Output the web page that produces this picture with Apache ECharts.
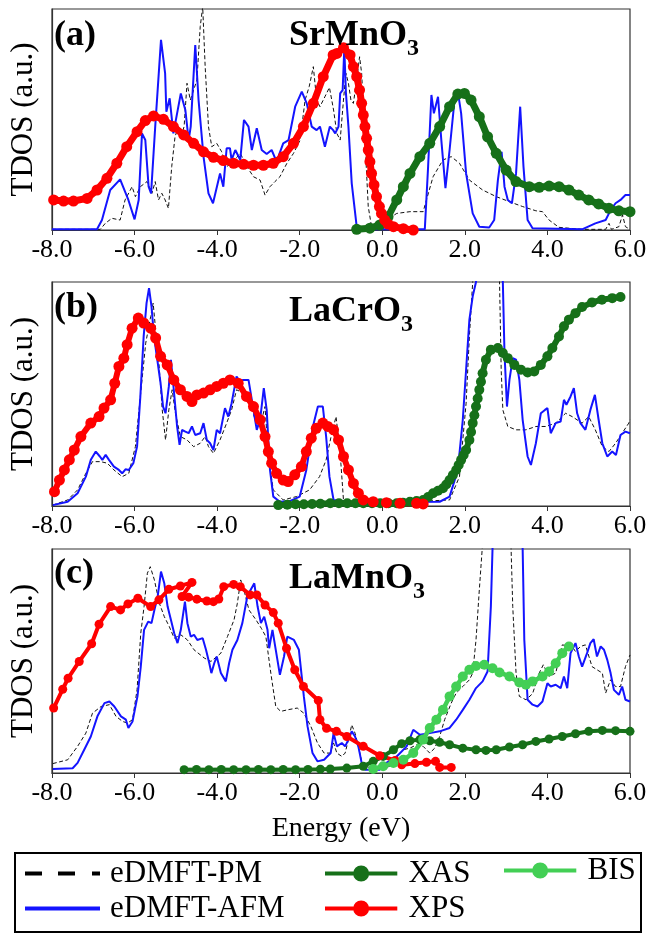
<!DOCTYPE html>
<html>
<head>
<meta charset="utf-8">
<script src="https://cdn.jsdelivr.net/npm/echarts@6/dist/echarts.min.js"></script>
<style>html,body{margin:0;padding:0;background:#fff}#chart{width:650px;height:933px}</style>
</head>
<body>
<div id="chart"></div>
<script>
// ---------- data (energy eV, TDOS a.u. in % of panel height) ----------
const xTicks = [-8, -6, -4, -2, 0, 2, 4, 6];
const panelLabels = ['(a)', '(b)', '(c)'];
const compounds = [['SrMnO', '3'], ['LaCrO', '3'], ['LaMnO', '3']];
const seriesNames = ['eDMFT-PM', 'eDMFT-AFM', 'XAS', 'XPS', 'BIS'];

// Panel (a) SrMnO3
const aPM = [[-8,0.3],[-6.83,0.3],[-6.71,3],[-6.55,5.3],[-6.35,4.5],[-6.23,13.6],[-6.06,19.6],[-5.98,15.1],[-5.86,19.6],[-5.7,21.9],[-5.58,16.6],[-5.5,21.9],[-5.42,13.6],[-5.34,16.6],[-5.26,13.6],[-5.18,9.8],[-5.1,28.7],[-5.02,42.2],[-4.94,46.8],[-4.85,43.7],[-4.8,46.8],[-4.73,66.4],[-4.65,58.8],[-4.57,63.3],[-4.49,67.9],[-4.41,92],[-4.35,101],[-4.29,73.9],[-4.21,46.8],[-4.13,37.7],[-4.01,39.2],[-3.89,35.4],[-3.77,28.7],[-3.65,30.2],[-3.44,34.7],[-3.28,28.7],[-3.12,24.1],[-2.96,22.6],[-2.84,15.8],[-2.72,19.6],[-2.6,21.9],[-2.48,24.1],[-2.31,30.2],[-2.15,34.7],[-1.99,40.7],[-1.87,58.8],[-1.77,64.9],[-1.67,73.9],[-1.59,58.8],[-1.51,55.8],[-1.39,60.3],[-1.28,64.5],[-1.18,54.3],[-1.1,43.7],[-1.02,40.7],[-0.94,58.8],[-0.88,70.9],[-0.82,66.4],[-0.76,58.8],[-0.7,57.3],[-0.62,67.9],[-0.55,78.4],[-0.5,70.9],[-0.42,40.7],[-0.34,10.6],[-0.26,1.5],[-0.1,0.8],[0.1,4.5],[0.35,7.5],[0.67,8.3],[0.99,8.3],[1.07,13.6],[1.23,24.1],[1.47,31.7],[1.67,33.2],[1.87,30.2],[2.11,22.6],[2.43,18.1],[2.76,15.1],[3.08,12.8],[3.4,10.6],[3.72,8.7],[3.88,8.3],[4.04,4.5],[4.28,1.2],[4.84,0.3],[5.41,0.3],[5.49,3],[5.55,0.3],[5.73,1.5],[5.82,6.8],[5.89,1.5],[6,0.3]];
const aAFM = [[-8,0.3],[-6.91,0.3],[-6.79,4.5],[-6.59,18.1],[-6.35,22.9],[-6.15,13.6],[-6.0,4.8],[-5.9,13.6],[-5.82,43.7],[-5.74,40.7],[-5.66,19.6],[-5.6,16.6],[-5.5,46.8],[-5.36,86],[-5.26,70.9],[-5.23,53.5],[-5.15,59.6],[-5.06,43.7],[-4.88,61.8],[-4.77,54.3],[-4.69,40.7],[-4.64,46.8],[-4.53,83.7],[-4.45,58.8],[-4.33,33.2],[-4.21,16.6],[-4.1,12.1],[-3.93,25.6],[-3.85,19.6],[-3.77,37],[-3.69,37],[-3.65,31.7],[-3.56,36.2],[-3.44,31.7],[-3.35,49.8],[-3.24,46.8],[-3.16,36.2],[-3.04,46],[-2.92,36.2],[-2.8,34.4],[-2.68,36.2],[-2.56,30.9],[-2.4,39.2],[-2.27,40.7],[-2.11,55.8],[-1.95,62.6],[-1.83,57.3],[-1.71,46.8],[-1.59,45.2],[-1.51,46.8],[-1.39,37.7],[-1.27,46.8],[-1.19,45.2],[-1.14,43.7],[-1.06,46.8],[-1.02,61.8],[-0.96,63.3],[-0.92,82.2],[-0.88,61.8],[-0.82,46.8],[-0.74,21.1],[-0.62,1.5],[-0.46,0.3],[1.03,0.3],[1.11,28.7],[1.19,61.1],[1.25,52.8],[1.35,60.3],[1.43,40.7],[1.53,18.9],[1.63,36.2],[1.75,58.8],[1.83,62.6],[1.91,52.8],[2.03,25.6],[2.19,7.5],[2.35,1.5],[2.59,1.1],[2.71,4.5],[2.8,22.6],[2.89,35.4],[2.96,19.6],[3.04,13.6],[3.14,12.1],[3.24,25.6],[3.34,55.8],[3.42,28.7],[3.52,4.5],[3.64,0.8],[4.84,0.3],[5.16,3],[5.41,4.5],[5.53,9],[5.65,12.1],[5.77,13.6],[5.89,15.8],[6,15.8]];
const aXPS = [[-7.96,13.6],[-7.72,13.1],[-7.48,13.1],[-7.15,14.3],[-6.91,18.1],[-6.67,23.4],[-6.43,30.2],[-6.19,37.7],[-5.94,44.5],[-5.74,49.5],[-5.54,51.6],[-5.3,50.1],[-5.06,46.8],[-4.81,43],[-4.57,39.2],[-4.33,35.4],[-4.09,32.9],[-3.85,31.4],[-3.6,30.2],[-3.36,29.7],[-3.12,29.3],[-2.88,29.3],[-2.64,30.2],[-2.4,33.2],[-2.15,39.2],[-1.91,46.8],[-1.67,57.3],[-1.43,69.4],[-1.19,79.2],[-1.1,79.9],[-0.94,82.5],[-0.78,79.2],[-0.7,73.9],[-0.62,69.4],[-0.55,63.3],[-0.5,57.3],[-0.46,52],[-0.42,46.8],[-0.38,41.5],[-0.34,36.2],[-0.3,30.9],[-0.26,25.6],[-0.2,20.4],[-0.14,15.1],[-0.07,10.6],[-0.02,7.5],[0.06,4.5],[0.14,2.7],[0.27,1.5],[0.51,0.6],[0.75,0]];
const aXAS = [[-0.62,0.3],[-0.3,0.8],[-0.06,2.3],[0.14,6],[0.35,13.6],[0.51,19.6],[0.67,25.6],[0.91,33.2],[1.15,39.2],[1.39,46.8],[1.63,55.8],[1.83,61.5],[1.99,61.8],[2.15,58.8],[2.35,51.3],[2.55,42.2],[2.76,34.7],[3.0,27.1],[3.24,21.9],[3.56,19.6],[3.8,19.3],[4.04,19.9],[4.28,19.6],[4.52,18.1],[4.76,15.8],[5.0,13.6],[5.24,11.8],[5.49,9.8],[5.73,8.7],[6.0,8.3]];

// Panel (b) LaCrO3
const bPM = [[-7.98,0.4],[-7.62,2.7],[-7.38,7.2],[-7.18,14.6],[-7.02,19.8],[-6.82,19.8],[-6.66,19.1],[-6.5,16.1],[-6.3,13.1],[-6.14,14.6],[-5.98,26.5],[-5.86,48.9],[-5.73,72.7],[-5.61,84.6],[-5.55,90.6],[-5.49,78.7],[-5.41,63.8],[-5.33,42.9],[-5.25,29.5],[-5.17,42.9],[-5.09,51.9],[-5.01,41.4],[-4.89,31],[-4.73,29.5],[-4.57,26.5],[-4.41,28],[-4.29,31],[-4.21,26.5],[-4.09,23.5],[-3.93,29.5],[-3.77,37],[-3.65,42.9],[-3.53,51.9],[-3.37,50.4],[-3.2,45.9],[-3.08,38.5],[-2.96,35.5],[-2.84,44.4],[-2.76,22.1],[-2.64,7.2],[-2.4,2.7],[-2.08,4.2],[-1.76,7.2],[-1.52,13.1],[-1.36,20.6],[-1.24,31],[-1.12,39.9],[-1.08,39.9],[-1.02,23.5],[-0.94,2.7],[-0.78,1.6],[0.35,1.6],[1.63,2.7],[1.87,13.1],[2.03,45.9],[2.11,75.7],[2.19,100],[2.27,120],[2.8,120],[2.84,100],[2.88,60.8],[2.92,42.9],[3.04,35.5],[3.24,34],[3.48,34],[3.72,35.5],[3.96,35.5],[4.2,37],[4.44,41.4],[4.6,39.9],[4.84,37],[5.0,39.9],[5.16,34],[5.33,26.5],[5.49,24.3],[5.65,28],[5.81,32.5],[5.97,37],[6.0,38.5]];
const bAFM = [[-7.98,0.4],[-7.62,1.9],[-7.38,5.7],[-7.18,13.1],[-7.06,20.6],[-6.94,24.3],[-6.84,22.1],[-6.78,20.6],[-6.7,22.8],[-6.62,20.6],[-6.5,17.6],[-6.38,16.1],[-6.3,14.6],[-6.22,16.4],[-6.14,16.1],[-6.03,19.1],[-5.94,26.5],[-5.86,48.9],[-5.78,75.7],[-5.71,90.6],[-5.65,97.3],[-5.59,89.1],[-5.53,75.7],[-5.45,65.3],[-5.37,54.8],[-5.31,44.4],[-5.25,41.4],[-5.17,53.4],[-5.12,65.3],[-5.05,51.9],[-4.97,35.5],[-4.91,27.3],[-4.85,34],[-4.77,33.2],[-4.69,32.5],[-4.61,35.5],[-4.53,31.7],[-4.41,32.5],[-4.33,37],[-4.25,29.5],[-4.17,28],[-4.09,25],[-4.01,34],[-3.93,32.5],[-3.81,43.7],[-3.73,39.9],[-3.65,45.9],[-3.53,57.8],[-3.45,55.6],[-3.37,56.3],[-3.24,56.3],[-3.12,42.9],[-3.04,34],[-2.96,38.5],[-2.87,52.6],[-2.8,42.9],[-2.72,16.1],[-2.64,4.2],[-2.48,1.9],[-2.24,2.2],[-2.0,4.2],[-1.84,16.1],[-1.68,35.5],[-1.56,44.4],[-1.44,44.4],[-1.36,31],[-1.28,13.1],[-1.18,2.7],[-0.78,1.9],[0.35,1.8],[1.39,1.9],[1.63,4.2],[1.83,16.1],[1.95,38.5],[2.03,60.8],[2.11,83.2],[2.19,93.6],[2.27,100],[2.35,120],[2.84,120],[2.92,100],[2.96,68.3],[3.02,44.4],[3.08,56.3],[3.16,66],[3.24,65.3],[3.32,56.3],[3.4,38.5],[3.52,22.1],[3.6,18.3],[3.72,28],[3.84,41.4],[3.94,42.9],[4.0,43.7],[4.08,32.5],[4.2,37],[4.32,37.7],[4.4,47.4],[4.46,45.2],[4.56,48.9],[4.64,52.6],[4.72,41.4],[4.8,37],[4.92,34],[5.04,42.9],[5.15,49.6],[5.24,38.5],[5.33,28],[5.45,22.1],[5.57,24.3],[5.66,22.8],[5.77,31.7],[5.89,33.2],[6.0,32.5]];
const bXPS = [[-7.94,6.4],[-7.82,11.6],[-7.7,16.1],[-7.58,20.6],[-7.46,25],[-7.3,31],[-7.06,37],[-6.86,39.9],[-6.74,43.7],[-6.58,47.4],[-6.48,54.8],[-6.38,62.3],[-6.26,66],[-6.18,72],[-6.06,79.4],[-5.91,83.9],[-5.78,81.7],[-5.61,79.4],[-5.49,75],[-5.37,66.8],[-5.21,63],[-5.05,56.3],[-4.89,51.9],[-4.73,48.9],[-4.61,46.6],[-4.49,49.6],[-4.33,50.4],[-4.17,51.9],[-4.01,53.4],[-3.85,54.8],[-3.69,56.3],[-3.49,54.8],[-3.29,48.9],[-3.12,44.4],[-2.96,38.5],[-2.84,31],[-2.76,24.3],[-2.68,19.1],[-2.56,14.6],[-2.4,11.6],[-2.28,10.9],[-2.12,13.9],[-1.96,17.6],[-1.84,24.3],[-1.72,30.3],[-1.6,34.7],[-1.44,37],[-1.32,35.5],[-1.18,34],[-1.06,29.5],[-0.94,22.1],[-0.82,16.1],[-0.7,10.1],[-0.58,5.7],[-0.46,2.7],[-0.22,1.9],[0.1,1.5],[0.43,1.2],[0.83,1.2],[0.99,0.9]];
const bXAS = [[-2.52,0.4],[-2.3,0.6],[-2.1,0.8],[-1.9,0.8],[-1.7,0.9],[-1.5,1],[-1.26,1.2],[-1.05,1.2],[-0.85,1.2],[-0.65,1.2],[-0.46,1.2],[-0.25,1.2],[-0.05,1.2],[0.15,1.2],[0.35,1.2],[0.5,1.5],[0.67,1.9],[0.83,2.2],[0.99,2.7],[1.11,4],[1.23,5.7],[1.35,6.8],[1.47,7.9],[1.55,9.6],[1.63,11.6],[1.71,13.8],[1.79,16.1],[1.85,18.3],[1.91,20.6],[1.97,22.8],[2.03,25],[2.11,29.5],[2.15,33],[2.19,37],[2.23,40.5],[2.27,44.4],[2.31,48],[2.35,51.9],[2.39,55.5],[2.43,59.3],[2.51,65.3],[2.63,69.7],[2.8,70.5],[2.92,68.3],[3.04,66],[3.2,63],[3.36,60.8],[3.52,59.6],[3.68,60.1],[3.84,63],[4.0,66.8],[4.12,70.5],[4.28,75.7],[4.4,80.2],[4.52,83.2],[4.68,86.1],[4.84,88.8],[5.08,90.9],[5.32,92.1],[5.57,92.8],[5.77,93.3]];

// Panel (c) LaMnO3
const cPM = [[-7.98,4.2],[-7.62,5.9],[-7.38,11.9],[-7.18,17.8],[-7.02,26.7],[-6.81,29.7],[-6.61,30.5],[-6.45,25.3],[-6.29,23],[-6.17,22.3],[-6.05,23.8],[-5.94,37.1],[-5.85,62.4],[-5.77,74.3],[-5.69,89.2],[-5.62,92.1],[-5.52,86.2],[-5.4,75.8],[-5.28,69.8],[-5.16,65.4],[-5.04,60.2],[-4.88,61.7],[-4.72,59.4],[-4.56,55],[-4.31,51.3],[-4.15,49.8],[-3.91,53.5],[-3.75,60.9],[-3.59,68.4],[-3.51,75.8],[-3.43,86.2],[-3.35,81.7],[-3.23,72.8],[-3.06,68.4],[-2.93,64.6],[-2.82,60.9],[-2.7,44.6],[-2.58,29.7],[-2.46,27.5],[-2.3,28.2],[-2.06,29],[-1.9,26.7],[-1.73,20.8],[-1.57,13.4],[-1.41,8.9],[-1.26,8.9],[-1.18,13.4],[-1.1,8.9],[-0.98,7.4],[-0.9,8.9],[-0.82,14.9],[-0.74,21.5],[-0.66,17.8],[-0.58,11.9],[-0.5,5.2],[-0.42,3],[-0.06,1.5],[0.18,3],[0.35,7.4],[0.51,10.4],[0.67,11.1],[0.83,12.6],[0.99,11.9],[1.15,8.9],[1.27,11.1],[1.39,16.3],[1.51,23.8],[1.67,31.2],[1.79,35.7],[1.95,38.6],[2.11,41.6],[2.19,44.6],[2.27,59.4],[2.35,81.7],[2.42,100],[2.46,130],[3.08,130],[3.12,100],[3.16,74.3],[3.24,44.6],[3.32,34.2],[3.48,32.7],[3.64,35.4],[3.8,44.6],[3.9,48.3],[4.04,43.1],[4.2,44.6],[4.28,50.5],[4.36,57.2],[4.48,56.8],[4.6,56.5],[4.68,54.2],[4.8,56.5],[4.92,57.2],[5.08,47.5],[5.2,46.1],[5.33,44.6],[5.41,35.7],[5.53,41.6],[5.65,38.6],[5.77,38.6],[5.89,47.5],[6.0,52.7]];
const cAFM = [[-7.98,1.8],[-7.5,2.1],[-7.38,4.5],[-7.22,10.4],[-7.06,16.3],[-6.9,25.3],[-6.73,31.2],[-6.61,31.9],[-6.49,29.7],[-6.33,25.3],[-6.21,23.8],[-6.15,20.1],[-6.05,23],[-5.93,34.2],[-5.85,47.5],[-5.77,63.9],[-5.67,67.6],[-5.59,66.9],[-5.52,72.8],[-5.44,78.8],[-5.36,89.9],[-5.28,84.7],[-5.2,74.3],[-5.12,68.4],[-5.04,62.4],[-4.96,58],[-4.88,63.9],[-4.78,76.5],[-4.72,66.9],[-4.64,60.9],[-4.56,61.7],[-4.48,59.4],[-4.35,60.2],[-4.27,55],[-4.19,49],[-4.14,44.6],[-4.07,49],[-4.01,52],[-3.91,44.6],[-3.79,40.9],[-3.71,49],[-3.63,55],[-3.51,59.4],[-3.39,66.9],[-3.27,78.8],[-3.19,81.7],[-3.1,84.7],[-3.02,74.3],[-2.94,66.9],[-2.86,69.8],[-2.78,63.9],[-2.74,55.7],[-2.66,63.9],[-2.58,55],[-2.48,43.8],[-2.38,52],[-2.3,60.9],[-2.14,59.4],[-2.02,55],[-1.9,34.2],[-1.81,20.8],[-1.69,8.9],[-1.57,5.2],[-1.41,5.9],[-1.25,8.9],[-1.18,17.8],[-1.1,11.9],[-0.98,13.4],[-0.9,11.9],[-0.82,14.9],[-0.74,18.6],[-0.66,16.3],[-0.58,11.9],[-0.5,4.5],[-0.42,1.5],[-0.06,1.5],[0.1,4.5],[0.35,7.4],[0.59,11.9],[0.75,19.3],[0.91,17.1],[1.15,17.8],[1.39,18.6],[1.63,20.1],[1.79,23.8],[1.95,28.2],[2.11,32.7],[2.27,37.9],[2.43,40.9],[2.55,45.3],[2.63,74.3],[2.67,100],[2.71,130],[3.36,130],[3.4,100],[3.44,59.4],[3.52,32.7],[3.64,30.5],[3.76,29.7],[3.88,31.9],[4.0,40.1],[4.08,38.6],[4.2,39.4],[4.32,37.9],[4.4,43.1],[4.48,37.9],[4.56,53.5],[4.68,58],[4.76,52],[4.84,47.5],[4.96,53.5],[5.04,58],[5.12,59.7],[5.2,52],[5.29,56.5],[5.37,55],[5.45,50.5],[5.53,44.6],[5.61,37.1],[5.73,34.9],[5.81,38.6],[5.89,32.7],[6.0,31.9]];
const cXPS = [[-7.96,29],[-7.74,37.4],[-7.61,42.3],[-7.34,49.8],[-7.04,57.7],[-6.86,66.4],[-6.58,74.3],[-6.34,72.8],[-6.16,75.5],[-5.92,78],[-5.61,74.3],[-5.41,77.3],[-5.17,82],[-4.89,83.5],[-4.61,85.1],[-4.85,78.8],[-4.69,78.5],[-4.49,77.6],[-4.25,76.8],[-4.09,76.5],[-3.96,77.7],[-3.84,83.2],[-3.6,84.2],[-3.44,83.2],[-3.2,79.5],[-3.04,79.5],[-2.84,75],[-2.64,71.6],[-2.52,66.9],[-2.32,55.7],[-2.12,46.1],[-1.91,38.6],[-1.55,32.4],[-1.51,23.8],[-1.35,20],[-1.11,18.6],[-0.86,16.3],[-0.46,11.9],[-0.06,7.7],[0.31,5.6],[0.47,3.7],[0.79,4.2],[1.07,4.8],[1.29,5.2],[1.39,2.5],[1.67,2.5]];
const cXAS = [[-4.8,1.5],[-4.5,1.6],[-4.2,1.5],[-3.9,1.6],[-3.6,1.5],[-3.3,1.5],[-3.0,1.6],[-2.7,1.5],[-2.4,1.6],[-2.1,1.5],[-1.8,1.6],[-1.5,1.7],[-1.26,1.8],[-0.86,2.2],[-0.46,3],[-0.22,5.2],[0.02,7.4],[0.27,10.4],[0.47,13.1],[0.67,14.4],[0.91,14.9],[1.15,14.4],[1.39,13.7],[1.63,12.6],[1.95,11.1],[2.27,10.4],[2.51,10.1],[2.76,10.4],[3.08,11.6],[3.4,12.6],[3.72,14.1],[4.04,15.2],[4.36,16.3],[4.68,17.5],[5.0,18.6],[5.33,19],[5.65,18.9],[6.0,18.6]];
const cBIS = [[-0.22,1.8],[0.02,3],[0.27,4.5],[0.51,5.9],[0.75,8.9],[0.99,14.9],[1.15,20.1],[1.31,23.8],[1.47,28.2],[1.63,34.2],[1.79,38.6],[1.95,43.1],[2.11,46.1],[2.27,47.8],[2.47,48.3],[2.67,46.8],[2.84,44.9],[3.08,43.1],[3.32,40.4],[3.48,39.4],[3.64,40.9],[3.88,43.1],[4.04,45.3],[4.2,49],[4.36,53.5],[4.52,56.5]];

// ---------- styling ----------
const FONT = '"Liberation Serif", "Times New Roman", serif';
const COL = {pm: '#111111', afm: '#1414ff', xps: '#ff0000', xas: '#167019', bis: '#43cf55'};
const grids = [
  {left: 51, top: 9, width: 579, height: 221},
  {left: 51, top: 282, width: 579, height: 224},
  {left: 51, top: 549, width: 579, height: 224}
];

// legend icons drawn in an 80 x 16 box (last 5 units left blank as gap before text)
const CORNERS = 'M0,0h0.01v0.01h-0.01z M80,16h-0.01v-0.01h0.01z ';
const ICON_DASH = 'path://' + CORNERS + 'M0,6h17v4h-17z M33,6h17v4h-17z M67,6h8v4h-8z';
const ICON_LINE = 'path://' + CORNERS + 'M0,6h75v4h-75z';
const ICON_DOT = 'path://' + CORNERS + 'M0,6h30v4h-30z M45,6h30v4h-30z M45.8,8a8.3,8.3 0 1,1 -16.6,0a8.3,8.3 0 1,1 16.6,0z';

const chart = echarts.init(document.getElementById('chart'), null, {renderer: 'canvas'});

function pm(data, g) {
  return {name: seriesNames[0], type: 'line', xAxisIndex: g, yAxisIndex: g, data, showSymbol: false, symbol: 'none',
    lineStyle: {color: COL.pm, width: 1, type: [4, 2.5]}, itemStyle: {color: COL.pm}, z: 2, silent: true};
}
function afm(data, g) {
  return {name: seriesNames[1], type: 'line', xAxisIndex: g, yAxisIndex: g, data, showSymbol: false, symbol: 'none',
    lineStyle: {color: COL.afm, width: 2}, itemStyle: {color: COL.afm}, z: 3, silent: true};
}
function exp(name, color, data, g, size, lw) {
  return {name, type: 'line', xAxisIndex: g, yAxisIndex: g, data, symbol: 'circle', symbolSize: size, showSymbol: true,
    lineStyle: {color, width: lw}, itemStyle: {color}, z: 4, silent: true};
}

const series = [
  pm(aPM, 0), afm(aAFM, 0), exp('XAS', COL.xas, aXAS, 0, 11, 7), exp('XPS', COL.xps, aXPS, 0, 11, 7),
  pm(bPM, 1), afm(bAFM, 1), exp('XAS', COL.xas, bXAS, 1, 10, 6), exp('XPS', COL.xps, bXPS, 1, 11, 6),
  pm(cPM, 2), afm(cAFM, 2), exp('XAS', COL.xas, cXAS, 2, 9, 4), exp('XPS', COL.xps, cXPS, 2, 9, 4), exp('BIS', COL.bis, cBIS, 2, 10, 4.5)
];

const xAxes = grids.map((g, i) => ({
  type: 'value', gridIndex: i, min: xTicks[0], max: xTicks[xTicks.length - 1], interval: 2,
  axisLine: {show: true, onZero: false, lineStyle: {color: '#333', width: 1.2}},
  axisTick: {show: true, inside: false, length: 5, lineStyle: {color: '#333', width: 1}},
  axisLabel: {show: true, margin: 7, color: '#000', fontFamily: FONT, fontSize: 26, formatter: v => v.toFixed(1)},
  splitLine: {show: false},
  name: i === 2 ? 'Energy (eV)' : '', nameLocation: 'middle', nameGap: 42,
  nameTextStyle: {fontFamily: FONT, fontSize: 28, color: '#000'}
}));
const yAxes = grids.map((g, i) => ({
  type: 'value', gridIndex: i, min: 0, max: 100,
  axisLine: {show: true, onZero: false, lineStyle: {color: '#333', width: 1.2}},
  axisTick: {show: false}, axisLabel: {show: false}, splitLine: {show: false},
  name: 'TDOS (a.u.)', nameLocation: 'middle', nameGap: 13, nameRotate: 90,
  nameTextStyle: {fontFamily: FONT, fontSize: 31, color: '#000'}
}));

const titleTops = [[18, 11], [290, 287], [556, 554]];
const titles = [];
panelLabels.forEach((lab, i) => {
  titles.push({text: lab, left: 54, top: titleTops[i][0], padding: 0,
    textStyle: {fontFamily: FONT, fontSize: 36, fontWeight: 'bold', color: '#000'}});
  titles.push({text: '{m|' + compounds[i][0] + '}{s|' + compounds[i][1] + '}', left: 289, top: titleTops[i][1], padding: 0,
    textStyle: {rich: {
      m: {fontFamily: FONT, fontSize: 36, fontWeight: 'bold', color: '#000'},
      s: {fontFamily: FONT, fontSize: 24, fontWeight: 'bold', color: '#000', padding: [26, 0, 0, 0]}
    }}});
});

const legText = {fontFamily: FONT, fontSize: 31, color: '#000'};
const legendCommon = {orient: 'vertical', itemWidth: 80, itemHeight: 16, itemGap: 4, selectedMode: false,
  textStyle: legText, padding: 0};

chart.setOption({
  animation: false,
  backgroundColor: '#fff',
  textStyle: {fontFamily: FONT},
  title: titles,
  grid: grids.map(g => Object.assign({show: true, borderColor: '#333', borderWidth: 1.2, containLabel: false}, g)),
  xAxis: xAxes,
  yAxis: yAxes,
  legend: [
    Object.assign({}, legendCommon, {left: 25, top: 858,
      data: [{name: seriesNames[0], icon: ICON_DASH, itemStyle: {color: '#000'}},
             {name: seriesNames[1], icon: ICON_LINE}]}),
    Object.assign({}, legendCommon, {left: 325, top: 858,
      data: [{name: seriesNames[2], icon: ICON_DOT}, {name: seriesNames[3], icon: ICON_DOT}]}),
    Object.assign({}, legendCommon, {left: 504, top: 855, data: [{name: seriesNames[4], icon: ICON_DOT}]})
  ],
  graphic: [{type: 'rect', shape: {x: 15, y: 853, width: 626, height: 79},
    style: {fill: 'none', stroke: '#000', lineWidth: 2}, silent: true}],
  series
});
</script>
</body>
</html>
